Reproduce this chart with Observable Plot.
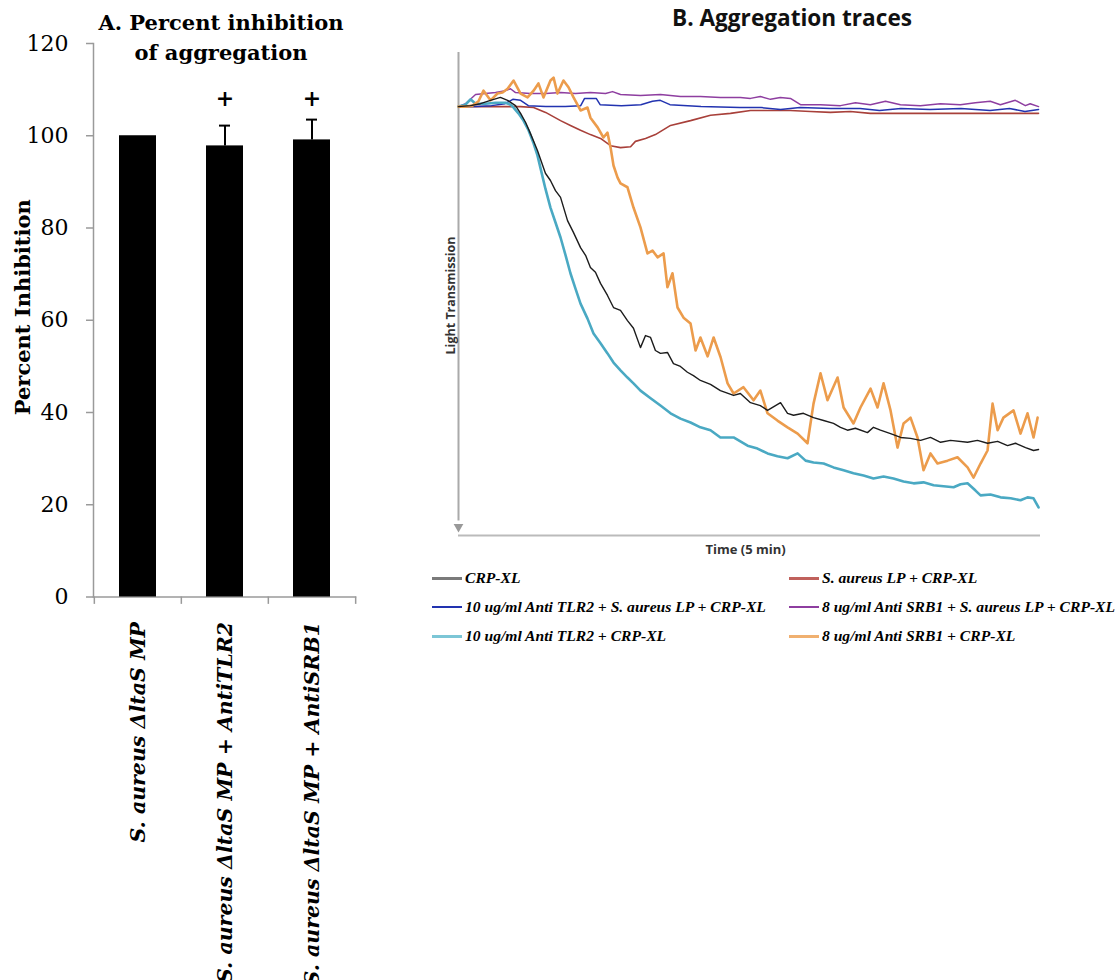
<!DOCTYPE html>
<html>
<head>
<meta charset="utf-8">
<script src="https://cdn.jsdelivr.net/npm/d3@7"></script>
<script src="https://cdn.jsdelivr.net/npm/@observablehq/plot@0.6"></script>
<style>
  html, body { margin: 0; padding: 0; background: #fff; }
  #root { position: relative; width: 1116px; height: 980px; overflow: hidden; background: #fff; }
  .abs { position: absolute; white-space: nowrap; }
  .titleA { font-family: "DejaVu Serif", serif; font-weight: bold; font-size: 21px; line-height: 30px; text-align: center; color: #000; }
  .titleB { font-family: "Open Sans", sans-serif; font-weight: bold; font-size: 22.6px; line-height: 26px; color: #111; }
  .leg { font-family: "Liberation Serif", serif; font-weight: bold; font-style: italic; font-size: 15.6px; line-height: 20px; height: 20px; color: #000; display: flex; align-items: center; }
  .leg .sw { display: inline-block; width: 30px; margin-right: 3px; }
</style>
</head>
<body>
<div id="root"></div>
<script>
// ---------- Panel A data ----------
const categoriesA = ["S. aureus \u0394ltaS MP", "S. aureus \u0394ltaS MP + AntiTLR2", "S. aureus \u0394ltaS MP + AntiSRB1"];
const inhibitionMean = [100, 97.8, 99.1];
const inhibitionErr = [0, 4.4, 4.4];
const significance = ["", "+", "+"];
const yTicksA = [0, 20, 40, 60, 80, 100, 120];
const yLabelA = "Percent Inhibition";
const titleA = ["A. Percent inhibition", "of aggregation"];

// ---------- Panel B data (time in s, light transmission in arbitrary %) ----------
const titleB = "B. Aggregation traces";
const axisLabelYB = "Light Transmission";
const axisLabelXB = "Time (5 min)";

const timeBlack = [0,6.2,11.3,16.5,21.6,25.3,29.4,32.0,34.6,37.1,40.7,44.8,47.4,50.0,52.6,56.2,59.3,62.9,65.5,68.0,70.6,73.2,76.8,79.9,83.5,87.1,90.2,93.8,96.4,99.0,101.5,104.1,107.7,110.8,114.4,118.0,121.1,124.7,129.9,135.0,141.8,145.3,150.5,155.6,159.3,163.4,166.0,169.6,172.7,177.8,183.0,188.2,193.3,196.9,200.5,204.6,210.8,213.9,217.5,222.7,227.9,233.0,238.2,243.3,248.5,253.6,262.4,267.5,272.7,277.9,283.0,287.1,292.3,296.4,299.0];
const lightBlack = [11.2,11.0,10.6,9.9,9.3,9.9,11.0,12.6,14.5,16.8,20.3,25.0,26.5,28.6,30.0,34.8,37.3,40.4,42.0,44.5,45.5,47.8,50.3,52.8,53.4,55.5,57.1,61.1,58.6,59.0,61.7,62.3,62.1,64.4,65.0,66.2,66.9,67.9,68.7,70.0,71.0,70.6,72.5,73.1,74.1,73.1,72.5,74.7,75.1,74.7,75.6,76.2,76.8,77.6,78.2,77.8,78.7,77.6,78.2,78.9,79.7,79.9,80.3,79.7,80.7,80.3,80.7,80.3,80.9,80.5,81.4,80.9,81.8,82.4,82.2];

const timeRed = [0,16.5,32.0,38.7,44.9,52.6,57.7,62.9,68.0,73.2,78.4,83.5,88.7,91.2,96.4,101.5,109.3,119.6,129.9,140.2,150.5,160.8,171.1,181.4,191.7,202.0,212.3,227.8,253.5,279.3,299.0];
const lightRed = [11.2,11.2,11.2,11.4,12.4,14.1,15.1,16.1,17.0,17.8,19.3,19.7,19.5,18.4,17.8,17.0,15.1,14.1,13.0,12.6,12.0,12.0,12.0,12.2,12.4,12.2,12.6,12.6,12.6,12.6,12.6];

const timeBlue = [0,9,17,24,28,32,36,45,55,63,65,71,73,84,94,100,104,109,125,145,156,166,176,192,207,217,228,243,259,274,284,292,299];
const lightBlue = [11.2,11.2,11.0,10.6,9.7,9.9,11.0,11.2,11.2,11.0,9.5,9.5,10.8,11.0,10.8,10.1,9.9,10.8,11.2,11.4,11.4,11.8,11.4,11.6,11.6,12.0,11.6,11.8,11.6,12.0,11.6,12.2,11.8];

const timePurple = [0,3.6,8.8,13.9,19.1,24.2,26.8,29.4,37.1,44.9,52.6,60.3,68.0,75.8,79.4,83.5,93.8,104.1,114.4,124.7,135.0,145.3,150.5,155.6,160.8,165.9,171.1,176.3,186.6,196.9,204.6,212.3,220.1,227.8,238.1,248.4,258.7,266.4,274.1,279.3,287.0,292.2,294.7,299.0];
const lightPurple = [11.2,10.6,8.7,8.5,8.3,7.9,7.5,8.3,8.5,8.5,8.3,8.5,8.3,8.5,8.1,8.7,8.9,8.7,9.1,9.1,9.3,9.3,9.5,9.1,9.7,9.3,9.5,10.8,10.8,11.0,10.4,10.8,10.1,10.8,11.0,10.6,10.8,10.4,10.1,10.8,9.9,11.0,10.6,11.2];

const timeCyan = [0,3.6,6.2,8.8,13.9,19.1,24.2,26.8,28.4,30.9,33.5,36.1,38.7,40.7,42.3,44.8,47.4,50.0,52.6,55.2,57.7,60.3,62.9,66.5,69.6,73.2,76.8,79.9,83.5,87.1,90.2,93.8,99.0,104.1,109.3,114.4,119.6,124.7,129.9,135.0,141.8,149.0,154.1,159.3,164.4,169.6,174.8,178.9,183.0,188.2,193.3,198.5,203.6,208.8,213.9,219.1,224.2,229.4,234.6,239.7,244.9,250.0,255.2,258.8,262.4,266.5,269.1,274.2,279.4,284.6,289.7,293.3,296.4,299.0];
const lightCyan = [11.2,10.8,9.7,10.6,10.6,10.4,10.4,10.8,11.4,12.6,14.1,16.1,18.8,21.3,24.0,28.2,32.1,35.2,38.3,42.0,45.7,48.9,52.0,55.1,58.2,60.2,62.3,64.2,65.8,67.3,68.5,70.0,71.6,73.1,74.7,75.8,76.6,77.6,78.2,79.7,79.7,81.4,82.0,83.0,83.6,84.0,83.0,84.5,84.9,85.1,85.9,86.5,87.1,87.6,88.2,87.8,88.2,88.8,89.2,89.0,89.6,89.8,90.0,89.4,89.2,90.7,91.7,91.5,92.1,92.3,92.7,92.1,92.3,94.2];

const timeOrange = [0,3.6,7.2,10.3,12.9,16.5,20.1,22.7,25.3,28.4,32.0,35.6,38.7,41.2,43.8,47.4,49.0,51.0,54.1,56.7,59.3,62.9,66.5,68.0,71.7,74.7,76.8,78.4,79.9,82.0,83.5,87.1,90.2,93.8,97.4,100.0,102.6,105.7,107.7,110.3,112.9,116.0,119.6,122.2,124.7,128.4,131.5,135.1,138.7,141.8,146.9,152.1,155.6,159.3,164.4,169.6,174.8,179.9,183.0,186.6,190.2,195.4,198.5,203.6,207.2,212.4,216.0,219.1,222.7,226.3,229.4,233.0,236.6,239.7,243.3,246.9,252.1,257.2,262.4,265.5,269.1,272.7,275.3,277.9,280.9,286.1,289.7,293.3,296.4,298.5];
const lightOrange = [11.2,11.2,11.0,10.1,7.9,9.9,8.5,8.3,7.5,5.8,8.5,9.3,7.9,6.4,9.3,5.8,5.2,8.5,5.8,7.2,9.3,12.0,11.4,13.5,15.5,17.6,16.6,19.7,23.4,25.9,27.1,27.9,32.1,36.2,41.6,41.0,42.4,41.6,48.6,45.7,52.8,54.9,56.1,61.7,59.0,62.9,59.0,63.1,68.5,70.6,69.3,72.0,70.0,74.7,76.2,77.6,78.9,80.9,72.7,66.4,72.0,67.3,73.5,76.8,73.5,69.6,73.5,68.5,74.1,81.8,76.8,75.6,79.7,86.5,83.0,85.1,84.5,83.8,85.9,88.0,85.1,82.4,72.7,78.2,75.6,74.1,78.9,74.7,79.7,75.6];

const seriesNames = [
  "CRP-XL",
  "S. aureus LP + CRP-XL",
  "10 ug/ml Anti TLR2 + S. aureus LP + CRP-XL",
  "8 ug/ml Anti SRB1 + S. aureus LP + CRP-XL",
  "10 ug/ml Anti TLR2 + CRP-XL",
  "8 ug/ml Anti SRB1 + CRP-XL"
];
const seriesColors = ["#1c1c1c", "#a8403a", "#2233b0", "#8e3ea0", "#4aa9c3", "#ec9c4c"];
const legendColors = ["#7a7a7a", "#c0615c", "#2233b0", "#8e3ea0", "#7cc6d6", "#f0b070"];
const seriesWidths = [1.4, 1.6, 1.5, 1.5, 2.6, 2.6];
const seriesTimes = [timeBlack, timeRed, timeBlue, timePurple, timeCyan, timeOrange];
const seriesValues = [lightBlack, lightRed, lightBlue, lightPurple, lightCyan, lightOrange];
const drawOrder = [1, 3, 2, 4, 5, 0];
const legendOrder = [[0, 2, 4], [1, 3, 5]];

const root = document.getElementById("root");

// ---------- Panel A ----------
const dataA = categoriesA.map((c, i) => ({c, v: inhibitionMean[i], e: inhibitionErr[i], s: significance[i]}));
const withErr = dataA.filter(d => d.e > 0);
const halfStep = (355 - 93) / categoriesA.length / 2;

const plotA = Plot.plot({
  width: 400, height: 980,
  marginTop: 43, marginBottom: 383.5, marginLeft: 93, marginRight: 45,
  style: {fontFamily: "'DejaVu Serif', serif", color: "#000", background: "transparent", overflow: "visible"},
  x: {domain: categoriesA, paddingInner: 0.576, paddingOuter: 0.288, label: null},
  y: {domain: [0, 120], label: null},
  marks: [
    Plot.frame({anchor: "left", stroke: "#9a9a9a", strokeWidth: 1.5}),
    Plot.frame({anchor: "bottom", stroke: "#9a9a9a", strokeWidth: 1.5}),
    Plot.axisY({ticks: yTicksA, tickSize: 7, tickPadding: 18, stroke: "#9a9a9a", strokeWidth: 1.5, fontSize: 22, label: null}),
    Plot.ruleX(categoriesA, {x: d => d, dx: -halfStep, y1: 0, y2: -1.6, stroke: "#9a9a9a", strokeWidth: 1.5}),
    Plot.ruleX(categoriesA.slice(-1), {x: d => d, dx: halfStep, y1: 0, y2: -1.6, stroke: "#9a9a9a", strokeWidth: 1.5}),
    Plot.axisX({tickSize: 0, tickPadding: 25, tickRotate: -90, fontSize: 20.5, fontWeight: "bold", fontStyle: "italic", label: null}),
    Plot.barY(dataA, {x: "c", y: "v", fill: "#000"}),
    Plot.ruleX(withErr, {x: "c", y1: "v", y2: d => d.v + d.e, stroke: "#000", strokeWidth: 2}),
    Plot.tickY(withErr, {x: "c", y: d => d.v + d.e, stroke: "#000", strokeWidth: 2, inset: 13}),
    Plot.text(dataA, {x: "c", y: 108, text: "s", fontSize: 22, fontWeight: "bold"}),
    Plot.text([yLabelA], {frameAnchor: "left", textAnchor: "middle", dx: -70, dy: -13, rotate: -90, text: d => d, fontSize: 21, fontWeight: "bold"})
  ]
});
plotA.style.position = "absolute";
plotA.style.left = "0px";
plotA.style.top = "0px";
root.appendChild(plotA);

const tA = document.createElement("div");
tA.className = "abs titleA";
tA.style.left = "71px"; tA.style.width = "300px"; tA.style.top = "8px";
tA.innerHTML = titleA.join("<br>");
root.appendChild(tA);

// ---------- Panel B ----------
const plotB = Plot.plot({
  width: 696, height: 560,
  marginTop: 52, marginBottom: 25, marginLeft: 38, marginRight: 76,
  style: {fontFamily: "'Open Sans', sans-serif", color: "#222", background: "transparent", overflow: "visible"},
  x: {domain: [0, 300], axis: null},
  y: {domain: [0, 100], reverse: true, axis: null},
  marks: [
    Plot.ruleX([0], {y1: 0, y2: 97, stroke: "#aaa", strokeWidth: 2}),
    Plot.dot([0], {x: 0, y: 98.2, symbol: "triangle", rotate: 180, r: 3.6, fill: "#999", stroke: "none"}),
    Plot.ruleY([100], {x1: 0, x2: 300, stroke: "#bbb", strokeWidth: 2}),
    ...drawOrder.map(k => Plot.line(seriesTimes[k].map((t, i) => ({t, v: seriesValues[k][i]})),
      {x: "t", y: "v", stroke: seriesColors[k], strokeWidth: seriesWidths[k], strokeLinejoin: "round"})),
    Plot.text([axisLabelYB], {x: 0, y: 50.3, dx: -8, rotate: -90, text: d => d, fontSize: 12.5, fontWeight: "bold", fill: "#333"}),
    Plot.text([axisLabelXB], {x: 148, y: 100, dy: 14, text: d => d, fontSize: 13, fontWeight: "bold", fill: "#333"})
  ]
});
plotB.style.position = "absolute";
plotB.style.left = "420px";
plotB.style.top = "0px";
root.appendChild(plotB);

const tB = document.createElement("div");
tB.className = "abs titleB";
tB.style.left = "592px"; tB.style.width = "400px"; tB.style.textAlign = "center"; tB.style.top = "5px";
tB.textContent = titleB;
root.appendChild(tB);

// legend
const legX = [432, 789];
const legY = [568, 597, 626];
legendOrder.forEach((col, ci) => col.forEach((k, ri) => {
  const row = document.createElement("div");
  row.className = "abs leg";
  row.style.left = legX[ci] + "px";
  row.style.top = legY[ri] + "px";
  const sw = document.createElement("span");
  sw.className = "sw";
  sw.style.borderTop = `${k === 0 || k === 4 || k === 5 || k === 1 ? 3 : 2}px solid ${legendColors[k]}`;
  row.appendChild(sw);
  const tx = document.createElement("span");
  tx.textContent = seriesNames[k];
  row.appendChild(tx);
  root.appendChild(row);
}));
</script>
</body>
</html>
